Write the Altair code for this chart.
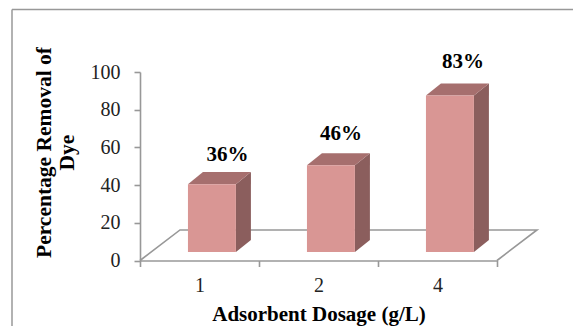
import altair as alt
import pandas as pd

categories = ["1", "2", "4"]
removal = [36, 46, 83]
label_shift = [0.13, 0.085, 0.11]
label_gap = [15.5, 16.5, 18]

# Depth of the pseudo-3D extrusion and floor, in data units
BAR_LEFT = [0.403, 1.403, 2.403]
BAR_WIDTH = 0.403
BASE = 4.5
DEPTH_X = 0.126
DEPTH_Y = 6.4
FLOOR_X = 0.336
FLOOR_Y = 16.2
FLOOR_END = 3

GREY = "#989898"
FONT = "Liberation Serif"

x_scale = alt.Scale(domain=[0, FLOOR_END], nice=False, zero=False)
y_scale = alt.Scale(domain=[0, 100], nice=False)

y_axis = alt.Axis(title=["Percentage Removal of", "Dye"], values=[0, 20, 40, 60, 80, 100],
                  labelFontSize=20, labelPadding=14, titleFontSize=21.5, titleFontWeight="bold",
                  titleLineHeight=23, titleX=-85, titleY=80, labelColor="#222222",
                  titleColor="#000000", domainColor=GREY, tickColor=GREY, domainWidth=1.6,
                  tickWidth=1.6, tickSize=6, labelFont=FONT, titleFont=FONT, grid=False)


def x_hidden(f):
    return alt.X(f, type="quantitative", scale=x_scale, axis=None)


def y_shared(f):
    return alt.Y(f, type="quantitative", scale=y_scale, axis=y_axis)


front, side, top, labels = [], [], [], []
for i, (left, value) in enumerate(zip(BAR_LEFT, removal)):
    right = left + BAR_WIDTH
    peak = BASE + value
    front.append({"x": left, "x2": right, "y": BASE, "y2": peak})
    side += [
        {"bar": i, "x": right, "y": BASE, "y2": peak},
        {"bar": i, "x": right + DEPTH_X, "y": BASE + DEPTH_Y, "y2": peak + DEPTH_Y},
    ]
    top += [
        {"bar": i, "y": peak, "x": left, "x2": right},
        {"bar": i, "y": peak + DEPTH_Y, "x": left + DEPTH_X, "x2": right + DEPTH_X},
    ]
    labels.append({
        "x": left + BAR_WIDTH / 2 + label_shift[i],
        "y": peak + label_gap[i],
        "text": f"{value}%",
    })

floor = pd.DataFrame([
    {"i": 0, "x": 0, "y": 0},
    {"i": 1, "x": FLOOR_X, "y": FLOOR_Y},
    {"i": 2, "x": FLOOR_END + FLOOR_X, "y": FLOOR_Y},
    {"i": 3, "x": FLOOR_END, "y": 0},
])

# Band scale carries the category axis, with ticks on the band edges
axis_layer = alt.Chart(pd.DataFrame({"c": categories, "v": removal})).mark_bar(opacity=0).encode(
    x=alt.X("c:N", sort=categories, scale=alt.Scale(paddingInner=0, paddingOuter=0),
            axis=alt.Axis(title="Adsorbent Dosage (g/L)", labelAngle=0, tickBand="extent",
                          labelFontSize=20, labelPadding=9, titleFontSize=21, titleFontWeight="bold",
                          titleY=43, labelColor="#222222", titleColor="#000000",
                          domainColor=GREY, tickColor=GREY, domainWidth=1.6, tickWidth=1.6,
                          tickSize=6, labelFont=FONT, titleFont=FONT, grid=False)),
    y=y_shared("v"),
)

floor_layer = alt.Chart(floor).mark_line(color=GREY, strokeWidth=1.6).encode(
    x=x_hidden("x"), y=y_shared("y"), order="i:O")

front_layer = alt.Chart(pd.DataFrame(front)).mark_rect(color="#D99694").encode(
    x=x_hidden("x"), x2="x2:Q", y=y_shared("y"), y2="y2:Q")

side_layer = alt.Chart(pd.DataFrame(side)).mark_area(color="#8B5E5D", orient="vertical").encode(
    x=x_hidden("x"), y=y_shared("y"), y2="y2:Q", detail="bar:N")

top_layer = alt.Chart(pd.DataFrame(top)).mark_area(color="#A66F6E", orient="horizontal").encode(
    y=y_shared("y"), x=x_hidden("x"), x2="x2:Q", detail="bar:N")

label_layer = alt.Chart(pd.DataFrame(labels)).mark_text(
    font=FONT, fontSize=21, fontWeight="bold", color="#000000").encode(
    x=x_hidden("x"), y=y_shared("y"), text="text:N")

# Outer frame of the figure, open at the bottom and right
frame_top = alt.Chart(pd.DataFrame({"a": [0]})).mark_rule(color=GREY, strokeWidth=1.5).encode(
    x=alt.value(-128), x2=alt.value(433), y=alt.value(-62.5))
frame_left = alt.Chart(pd.DataFrame({"a": [0]})).mark_rule(color=GREY, strokeWidth=1.5).encode(
    x=alt.value(-128), y=alt.value(-62.5), y2=alt.value(254))

chart = alt.layer(
    axis_layer, floor_layer, side_layer, top_layer, front_layer, label_layer, frame_top, frame_left
).resolve_scale(x="independent").properties(
    width=357,
    height=188.5,
    padding={"left": 140, "top": 72, "right": 76, "bottom": 65.5},
    autosize=alt.AutoSizeParams(type="none"),
    background="#ffffff",
).configure_view(stroke=None)

chart.save("out.html", embed_options={"renderer": "svg", "actions": False})
